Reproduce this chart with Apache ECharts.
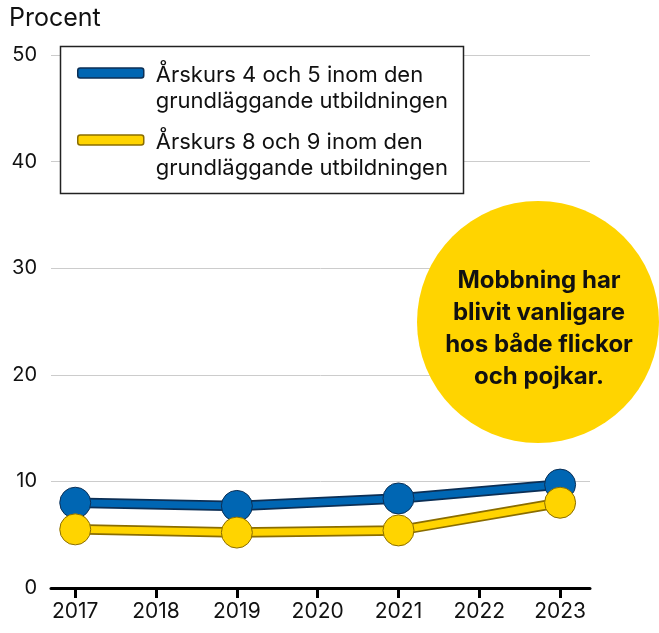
<!DOCTYPE html>
<html>
<head>
<meta charset="utf-8">
<script src="https://cdn.jsdelivr.net/npm/echarts@6/dist/echarts.min.js"></script>
<style>
  html, body { margin: 0; padding: 0; background: #fff; }
  #chart { width: 659px; height: 633px; }
</style>
</head>
<body>
<div id="chart"></div>
<script>
// årtal på x-axeln och mätår
const tickYears = [2017, 2018, 2019, 2020, 2021, 2022, 2023]
const years = [2017, 2019, 2021, 2023]
// andel (%) elever som mobbats
const ak45 = [8.0, 7.7, 8.4, 9.7]
const ak89 = [5.5, 5.2, 5.4, 8.0]
const names = [
  'Årskurs 4 och 5 inom den\ngrundläggande utbildningen',
  'Årskurs 8 och 9 inom den\ngrundläggande utbildningen'
]
const note = 'Mobbning har\nblivit vanligare\nhos både flickor\noch pojkar.'

const font = 'Inter'
const pairs = vals => years.map((y, i) => [y, vals[i]])

const chart = echarts.init(document.getElementById('chart'))

// en mörk kantlinje under och en färgad linje ovanpå
const lineSeries = (name, vals, color, edge) => [
  {
    type: 'line', data: pairs(vals), silent: true,
    symbol: 'none', lineStyle: { width: 10.5, color: edge }, z: 2
  },
  {
    name: name, type: 'line', data: pairs(vals),
    symbol: 'circle', symbolSize: 31,
    itemStyle: { color: color, borderColor: edge, borderWidth: 1 },
    lineStyle: { width: 7, color: color }, z: 3
  }
]

chart.setOption({
  animation: false,
  grid: { left: 51, right: 69, top: 55, bottom: 45, containLabel: false },
  xAxis: {
    type: 'value', min: 2016.70, max: 2023.37,
    splitLine: { show: false },
    axisLine: { lineStyle: { color: '#000', width: 3 } },
    axisTick: { show: true, customValues: tickYears, length: 10, lineStyle: { color: '#000', width: 3 } },
    axisLabel: {
      customValues: tickYears, formatter: v => String(v),
      fontFamily: font, fontSize: 21, color: '#111', margin: 13
    }
  },
  yAxis: {
    type: 'value', min: 0, max: 50, interval: 10,
    name: 'Procent', nameLocation: 'end', nameGap: 24,
    nameTextStyle: { fontFamily: font, fontSize: 25, color: '#111', align: 'left', padding: [0, 0, 0, -42] },
    axisLine: { show: false }, axisTick: { show: false },
    axisLabel: { fontFamily: font, fontSize: 20, color: '#111', margin: 14 },
    splitLine: { lineStyle: { color: '#cccccc', width: 1 } }
  },
  legend: {
    orient: 'vertical', left: 77, top: 42, padding: 0, itemGap: -3,
    icon: 'roundRect', itemWidth: 66, itemHeight: 10,
    data: [
      { name: names[0], itemStyle: { color: '#0066b3', borderColor: '#0c2f55', borderWidth: 1.5 } },
      { name: names[1], itemStyle: { color: '#ffd400', borderColor: '#8a6d00', borderWidth: 1.5 } }
    ],
    // tom rad överst så att första textraden hamnar i höjd med ikonen
    formatter: n => '{e| }\n' + n.split('\n').map(s => '{t|' + s + '}').join('\n'),
    textStyle: {
      rich: {
        e: { lineHeight: 30, fontSize: 10 },
        t: { fontFamily: font, fontSize: 22, color: '#111', lineHeight: 26, padding: [0, 0, 0, 7] }
      }
    }
  },
  graphic: [
    {
      type: 'rect', z: 1, silent: true,
      shape: { x: 60.5, y: 46.5, width: 403, height: 147 },
      style: { fill: '#fff', stroke: '#222', lineWidth: 1.5 }
    },
    {
      type: 'circle', z: 10, silent: true,
      shape: { cx: 538, cy: 322, r: 121 },
      style: { fill: '#ffd400' }
    },
    {
      type: 'text', z: 11, silent: true, x: 539, y: 329,
      style: {
        text: note, fontFamily: font, fontSize: 24, fontWeight: 'bold',
        lineHeight: 32, fill: '#111', align: 'center', verticalAlign: 'middle'
      }
    }
  ],
  series: [
    ...lineSeries(names[0], ak45, '#0066b3', '#0c2f55'),
    ...lineSeries(names[1], ak89, '#ffd400', '#8a6d00')
  ]
})
</script>
</body>
</html>
